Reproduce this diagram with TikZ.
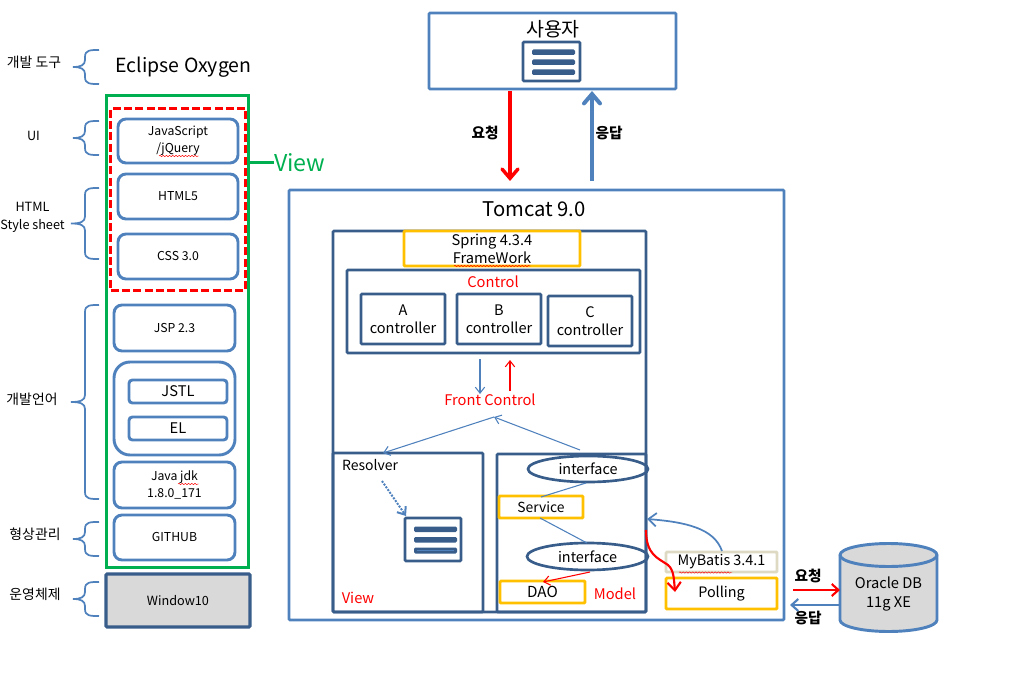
\documentclass[tikz,border=0pt]{standalone}
\usepackage{fontspec}
\setmainfont{Noto Sans CJK KR}
\usetikzlibrary{arrows.meta,shapes.geometric,decorations.pathmorphing}
\definecolor{bl}{HTML}{4F81BD}
\definecolor{dbl}{HTML}{385D8A}
\definecolor{grn}{HTML}{00B050}
\definecolor{yel}{HTML}{FFC000}
\definecolor{tanc}{HTML}{DDD9C3}
\definecolor{gry}{HTML}{D9D9D9}
\tikzset{
  base/.style={inner sep=0pt,outer sep=0pt,align=center,text=black},
  rbox/.style={base,draw=bl,line width=2.2pt,rounded corners=6pt,font=\fontsize{9.2}{12.8}\selectfont},
  sbox/.style={rbox,font=\fontsize{11}{13}\selectfont,rounded corners=2.5pt},
  nbox/.style={base,draw=dbl,line width=2pt,rounded corners=.8pt,font=\fontsize{10.9}{13.5}\selectfont},
  lbox/.style={base,draw=bl,line width=2pt,rounded corners=.8pt},
  ybox/.style={base,draw=yel,line width=2.2pt,rounded corners=.8pt,font=\fontsize{10.8}{13.5}\selectfont},
  ell/.style={base,ellipse,draw=dbl,line width=2pt,font=\fontsize{10.8}{13.5}\selectfont},
  lab/.style={base,font=\fontsize{9.5}{13}\selectfont},
  klabel/.style={base,font=\fontsize{10.4}{13}\selectfont},
  klab/.style={base,font=\bfseries\fontsize{11}{13}\selectfont},
  redt/.style={base,text=red,font=\fontsize{11}{13}\selectfont},
  bar/.style={fill=dbl,draw=none,rounded corners=1pt},
  brc/.style={draw=bl,line width=1.3pt},
  wavy/.style={red,line width=.35pt,decorate,decoration={snake,amplitude=.5pt,segment length=2.4pt}},
  tip/.style={-{Straight Barb[length=4.5pt,width=7pt]}},
  bigtip/.style={-{Straight Barb[length=7pt,width=12pt,line cap=round]}},
}
\newcommand{\bx}[7][]{%
  \pgfmathsetmacro\bxw{(#5-#3)*0.75}\pgfmathsetmacro\bxh{(#6-#4)*0.75}%
  \pgfmathsetmacro\bxx{(#3+#5)/2}\pgfmathsetmacro\bxy{(#4+#6)/2}%
  \node[#1,minimum width=\bxw pt,minimum height=\bxh pt] (#2) at (\bxx,\bxy) {#7};}
\newcommand{\mybrace}[3]{%
  \pgfmathsetmacro\brm{(#1+#2)/2}%
  \draw[brc] (99,#1) .. controls (90,#1) and (85,#1) .. (85,#1+7) -- (85,\brm-7)
    .. controls (85,\brm-2) and (81,\brm) .. (#3,\brm)
    .. controls (81,\brm) and (85,\brm+2) .. (85,\brm+7) -- (85,#2-7)
    .. controls (85,#2) and (90,#2) .. (99,#2);}
\begin{document}
\begin{tikzpicture}[x=0.75pt,y=-0.75pt]
\useasboundingbox (0,0) rectangle (1017,677);
% left stack
\mybrace{50}{84}{73}
\mybrace{121}{155}{73}
\mybrace{188}{259}{71}
\mybrace{305}{499}{71}
\mybrace{522}{556}{73}
\mybrace{582}{616}{73}
\node[klabel] (ltool) at (34,62) {개발 도구};
\node[lab] (lui) at (33.5,136) {UI};
\node[lab] (lhtml) at (32.5,217.5) {HTML\\Style sheet};
\node[klabel] (llang) at (32,399.5) {개발언어};
\node[klabel] (lconf) at (35,534) {형상관리};
\node[klabel] (los) at (35,594) {운영체제};
\node[base,font=\fontsize{14.6}{17}\selectfont] (ecl) at (183.5,67) {Eclipse Oxygen};
\bx[base,draw=grn,line width=2.25pt]{green}{106.5}{95.5}{248.5}{567.5}{}
\bx[base,draw=red,line width=2.25pt,dash pattern=on 6pt off 2.5pt]{reddash}{110.5}{108.5}{245.5}{290.5}{}
\bx[rbox]{js}{118}{119}{238}{163}{JavaScript\\/jQuery}
\bx[rbox]{html}{118}{174}{238}{219}{HTML5}
\bx[rbox]{css}{118}{234}{238}{279}{CSS 3.0}
\bx[rbox]{jsp}{114}{305}{235}{351}{JSP 2.3}
\bx[rbox,rounded corners=12pt]{tag}{114}{362}{235}{455}{}
\bx[sbox]{jstl}{129}{380}{227}{403}{JSTL}
\bx[sbox]{el}{129}{417}{227}{440}{EL}
\bx[rbox]{java}{114}{462}{235}{508}{Java jdk\\1.8.0\_171}
\bx[rbox]{git}{114}{515}{235}{560}{GITHUB}
\bx[base,draw=dbl,fill=gry,line width=2.3pt,rounded corners=.8pt,font=\fontsize{9.5}{12}\selectfont]{win}{106}{574}{250}{627}{Window10}
\draw[wavy] (159,156) -- (199,156);
\draw[wavy] (178,484) -- (199,484);
\node[base,text=grn,anchor=west,font=\fontsize{17.4}{20}\selectfont] (viewl) at (274,163) {View};
\coordinate (vs) at (green.east |- viewl.west);
\draw[grn,line width=2.25pt] (vs) -- (viewl.west);
% user
\bx[lbox]{user}{429}{13}{676}{89}{}
\node[base,font=\fontsize{14.6}{17}\selectfont] (usert) at (553,29) {사용자};
\bx[base,draw=dbl,line width=2pt,rounded corners=.8pt]{uicon}{523}{42}{580}{81}{}
\fill[bar] (532,49.5) rectangle (575,55);
\fill[bar] (532,59.5) rectangle (575,65);
\fill[bar] (532,69.5) rectangle (575,75);
% tomcat
\bx[lbox]{tomcat}{289}{190}{784}{620}{}
\node[base,font=\fontsize{15.2}{18}\selectfont] (tomt) at (534,209) {Tomcat 9.0};
\coordinate (ua) at (510,91); \coordinate (ua2) at (510,181);
\coordinate (ub) at (592,91); \coordinate (ub2) at (592,181);
\draw[red,line width=2.6pt,bigtip] (ua) -- (ua2);
\draw[bl,line width=3pt,bigtip] (ub2) -- (ub);
\node[klab] (req1) at (485,133) {요청};
\node[klab] (res1) at (609,133) {응답};
% spring
\bx[base,draw=dbl,line width=2pt,rounded corners=.8pt]{spring}{333}{231}{646}{612}{}
\bx[ybox,fill=white,font=\fontsize{11}{13.4}\selectfont]{sp}{404}{231}{580}{266}{Spring 4.3.4\\FrameWork}
\draw[wavy] (454,266) -- (531,266);
\bx[nbox]{ctl}{347}{270}{640}{353}{}
\node[redt] (ctlt) at (493,282) {Control};
\bx[nbox]{ca}{361}{294}{445}{344}{A\\controller}
\bx[nbox]{cb}{457}{294}{541}{344}{B\\controller}
\bx[nbox]{cc}{548}{296}{632}{346}{C\\controller}
\node[redt] (fc) at (490,400) {Front Control};
\coordinate (d1) at (480,359); \coordinate (d2) at (480,394);
\coordinate (u1) at (510,391); \coordinate (u2) at (510,360);
\draw[bl,line width=.8pt,tip] (d1) -- (d2);
\draw[red,line width=.8pt,tip] (u1) -- (u2);
\bx[base,draw=dbl,line width=2pt,rounded corners=.8pt]{vw}{333}{453}{483}{612}{}
\bx[base,draw=dbl,line width=2pt,rounded corners=.8pt]{md}{497}{454}{646}{612}{}
\coordinate (fb) at (494,417);
\coordinate (vt) at (383,453);
\coordinate (mt) at (580,450);
\draw[bl,line width=.8pt,tip] (fb) -- (vt);
\draw[bl,line width=.8pt,tip] (mt) -- (fb);
\node[base,anchor=west,font=\fontsize{10.5}{13}\selectfont] (res) at (342,465) {Resolver};
\bx[base,draw=dbl,line width=2pt,rounded corners=.8pt]{vicon}{405}{518}{461}{561}{}
\fill[bar] (414,526.5) rectangle (457,532);
\fill[bar] (414,537) rectangle (457,542.5);
\fill[bar] (414,547.5) rectangle (457,553.5);
\draw[bl,line width=.6pt] (417,550.5) -- (454,550.5);
\coordinate (ds) at (382,481);
\draw[bl,line width=1.5pt,densely dotted,-{Straight Barb[length=5pt,width=8pt]}] (ds) -- (406,516);
\node[redt] (vwt) at (358,598) {View};
\node[redt] (mdt) at (615,594) {Model};
\bx[ell]{if1}{528}{456}{648}{482}{interface}
\bx[ybox,font=\fontsize{10.4}{13}\selectfont]{sv}{499}{496}{583}{518}{Service}
\bx[ell]{if2}{527}{543}{648}{570}{interface}
\bx[ybox,font=\fontsize{11.4}{13}\selectfont]{dao}{500}{581}{585}{603}{DAO}
\coordinate (s1) at (586,483); \coordinate (s2) at (541,497);
\coordinate (s3) at (540,518); \coordinate (s4) at (587,543);
\draw[bl,line width=.8pt] (s1) -- (s2);
\draw[bl,line width=.8pt] (s3) -- (s4);
\coordinate (s5) at (590,572); \coordinate (s6) at (543,582);
\draw[red,line width=.8pt,tip] (s5) -- (s6);
% mybatis
\bx[base,draw=tanc,line width=2.2pt,rounded corners=.8pt,font=\fontsize{10.8}{13}\selectfont]{mb}{666}{552}{777}{572}{MyBatis 3.4.1}
\bx[ybox]{pol}{666}{578}{777}{609}{\raisebox{-1.2pt}{Polling}}
\draw[wavy] (679,572.5) -- (732,572.5);
\coordinate (ms) at (722,551); \coordinate (me) at (647,519);
\draw[bl,line width=1.3pt,-{Straight Barb[length=6pt,width=10pt]}] (ms) .. controls (714,528) and (685,522) .. (me);
\coordinate (rs) at (646,530); \coordinate (re) at (675,592);
\draw[red,line width=1.6pt,-{Straight Barb[length=6pt,width=10pt]}] (rs) .. controls (646,555) and (658,558) .. (668,565) .. controls (674,570) and (674,580) .. (re);
% database
\path[draw=bl,fill=gry,line width=2.2pt] (840,555) arc[x radius=48.5,y radius=11.5,start angle=180,end angle=360] -- (937,620)
  arc[x radius=48.5,y radius=11.5,start angle=0,end angle=180] -- cycle;
\draw[bl,line width=2.2pt] (840,555) arc[x radius=48.5,y radius=11.5,start angle=180,end angle=0];
\node[base,minimum width=72.75pt,minimum height=66pt,font=\fontsize{11}{14}\selectfont] (db) at (888.5,594) {Oracle DB\\11g XE};
\coordinate (a1) at (793,590); \coordinate (a2) at (790,605);
\draw[red,line width=1.6pt,-{Straight Barb[length=5pt,width=9pt]}] (a1) -- (a1 -| db.west);
\draw[bl,line width=1.6pt,-{Straight Barb[length=5pt,width=9pt]}] (a2 -| db.west) -- (a2);
\node[klab] (req2) at (808,576) {요청};
\node[klab] (res2) at (808,618) {응답};
\end{tikzpicture}
\end{document}
